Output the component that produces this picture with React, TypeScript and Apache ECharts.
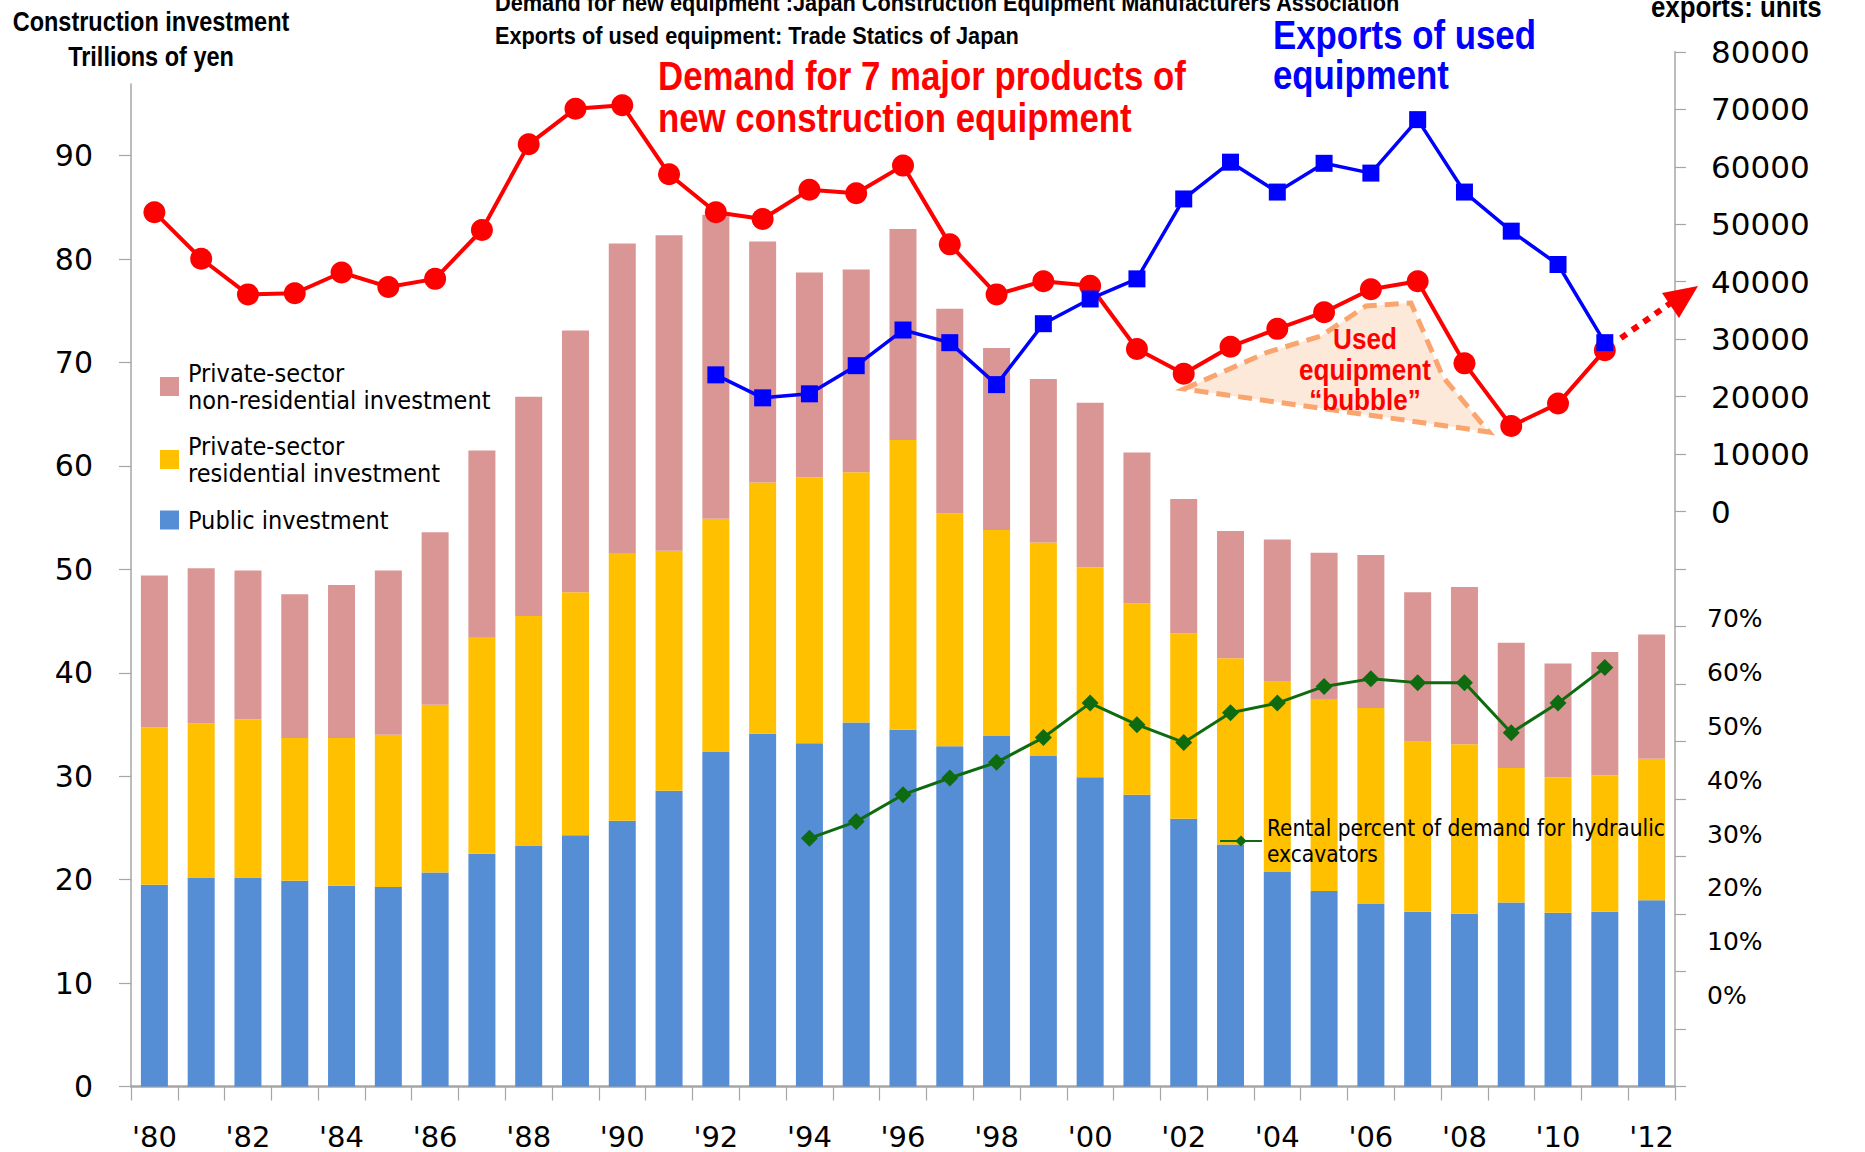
import React, { useEffect, useRef } from "react";
import * as echarts from "echarts";

const years = ["'80","'81","'82","'83","'84","'85","'86","'87","'88","'89","'90","'91","'92","'93","'94","'95","'96","'97","'98","'99","'00","'01","'02","'03","'04","'05","'06","'07","'08","'09","'10","'11","'12"];

const publicInv = [19.5,20.2,20.2,19.9,19.4,19.3,20.7,22.5,23.3,24.3,25.7,28.6,32.4,34.1,33.2,35.2,34.5,32.9,33.9,32.0,29.9,28.2,25.9,23.4,20.8,18.9,17.7,16.9,16.7,17.8,16.8,16.9,18.0];
const residentialInv = [15.2,14.9,15.3,13.8,14.3,14.7,16.2,20.9,22.2,23.5,25.8,23.2,22.5,24.3,25.7,24.2,28.0,22.5,19.9,20.6,20.3,18.5,17.9,18.0,18.4,18.5,18.9,16.5,16.4,13.0,13.1,13.2,13.7];
const nonResidentialInv = [14.7,15.0,14.4,13.9,14.8,15.9,16.7,18.1,21.2,25.3,30.0,30.5,29.4,23.3,19.8,19.6,20.4,19.8,17.6,15.8,15.9,14.6,13.0,12.3,13.7,14.2,14.8,14.4,15.2,12.1,11.0,11.9,12.0];

const newDemand = [52100,44000,37800,38000,41600,39100,40500,49000,63900,70100,70700,58700,52100,50900,56000,55400,60200,46500,37800,40100,39300,28300,24000,28700,31800,34700,38700,40100,25800,14900,18800,28100,null];
const usedExports = [null,null,null,null,null,null,null,null,null,null,null,null,23800,19800,20500,25400,31600,29400,22100,32700,37000,40500,54400,60800,55600,60600,58900,68200,55600,48800,43000,29400,null];
const rentalPct = [null,null,null,null,null,null,null,null,null,null,null,null,null,null,29.2,32.3,37.3,40.4,43.3,47.9,54.3,50.3,47.0,52.5,54.3,57.4,58.8,58.1,58.1,48.8,54.3,60.9,null];

const leftTicks = [0,10,20,30,40,50,60,70,80,90];
const pctTicks = [0,10,20,30,40,50,60,70];

const BOLDFONT = "'Liberation Sans', Arial, sans-serif";
const LEGENDFONT = "'DejaVu Sans Condensed', 'Liberation Sans Narrow', sans-serif";
const NUM = "'DejaVu Sans', Verdana, sans-serif";

const AXIS_GRAY = "#A6A6A6";

function txt(x: number, y: number, text: string, size: number, color: string, sx: number, align = "left") {
  return {
    type: "text",
    x,
    y,
    scaleX: sx,
    scaleY: 1,
    z: 100,
    style: {
      text,
      fill: color,
      font: `bold ${size}px ${BOLDFONT}`,
      textAlign: align,
      align,
      textVerticalAlign: "middle",
      verticalAlign: "middle",
    },
  };
}

export default function App() {
  const ref = useRef<HTMLDivElement>(null);

  useEffect(() => {
    if (!ref.current) return;
    const chart = echarts.init(ref.current, null, { renderer: "svg" });

    const gridLeft = 131;
    const gridRight = 190;
    const gridBottom = 65.5;

    const legendText = { fontFamily: LEGENDFONT, fontSize: 25, lineHeight: 27, color: "#000", padding: [0, 0, 0, 4] };

    const option: any = {
      animation: false,
      backgroundColor: "#ffffff",
      grid: [
        { left: gridLeft, right: gridRight, top: 84, bottom: gridBottom, containLabel: false },
        { left: gridLeft, right: gridRight, top: 51.8, bottom: gridBottom, containLabel: false },
      ],
      legend: [
        {
          data: ["Private-sector\nnon-residential investment", "Private-sector\nresidential investment"],
          orient: "vertical",
          left: 155,
          top: 354.5,
          itemWidth: 19,
          itemHeight: 19,
          itemGap: 19,
          icon: "rect",
          selectedMode: false,
          textStyle: legendText,
        },
        {
          data: ["Public investment"],
          orient: "vertical",
          left: 155,
          top: 501.5,
          itemWidth: 19,
          itemHeight: 19,
          icon: "rect",
          selectedMode: false,
          textStyle: legendText,
        },
        {
          data: ["Rental percent of demand for hydraulic\nexcavators"],
          orient: "vertical",
          left: 1214,
          top: 810,
          itemWidth: 42,
          itemHeight: 14,
          selectedMode: false,
          textStyle: { fontFamily: LEGENDFONT, fontSize: 22.5, lineHeight: 26, color: "#000" },
        },
      ],
      xAxis: [
        {
          type: "category",
          gridIndex: 0,
          data: years,
          boundaryGap: true,
          axisLine: { show: true, lineStyle: { color: AXIS_GRAY, width: 2.5 } },
          axisTick: { show: true, interval: 0, length: 14, lineStyle: { color: AXIS_GRAY, width: 1.2 } },
          axisLabel: { interval: 1, margin: 35, fontFamily: NUM, fontSize: 29, lineHeight: 30, color: "#000" },
          splitLine: { show: false },
        },
        {
          type: "category",
          gridIndex: 1,
          data: years,
          boundaryGap: true,
          show: false,
        },
      ],
      yAxis: [
        {
          type: "value",
          gridIndex: 0,
          min: 0,
          max: 96.93,
          position: "left",
          axisLine: { show: true, lineStyle: { color: AXIS_GRAY, width: 1.5 } },
          axisTick: { show: true, length: 12, customValues: leftTicks, lineStyle: { color: AXIS_GRAY, width: 1.2 } },
          axisLabel: { customValues: leftTicks, margin: 38, fontFamily: NUM, fontSize: 30, color: "#000" },
          splitLine: { show: false },
        },
        {
          type: "value",
          gridIndex: 1,
          min: -100000,
          max: 80000,
          interval: 10000,
          position: "right",
          axisLine: { show: true, lineStyle: { color: AXIS_GRAY, width: 1.5 } },
          axisTick: { show: true, length: 11, lineStyle: { color: AXIS_GRAY, width: 1.2 } },
          axisLabel: {
            margin: 36,
            fontFamily: NUM,
            fontSize: 31,
            color: "#000",
            formatter: (v: number) => (v < 0 ? "" : String(v)),
          },
          splitLine: { show: false },
        },
        {
          type: "value",
          gridIndex: 1,
          min: -16.87,
          max: 175.2,
          position: "right",
          axisLine: { show: false },
          axisTick: { show: false },
          axisLabel: {
            customValues: pctTicks,
            margin: 32,
            fontFamily: NUM,
            fontSize: 25,
            color: "#000",
            formatter: (v: number) => `${v}%`,
          },
          splitLine: { show: false },
        },
      ],
      series: [
        {
          name: "Public investment",
          type: "bar",
          stack: "inv",
          xAxisIndex: 0,
          yAxisIndex: 0,
          data: publicInv,
          barWidth: 27,
          itemStyle: { color: "#558ED5" },
          z: 2,
        },
        {
          name: "Private-sector\nresidential investment",
          type: "bar",
          stack: "inv",
          xAxisIndex: 0,
          yAxisIndex: 0,
          data: residentialInv,
          barWidth: 27,
          itemStyle: { color: "#FFC000" },
          z: 2,
        },
        {
          name: "Private-sector\nnon-residential investment",
          type: "bar",
          stack: "inv",
          xAxisIndex: 0,
          yAxisIndex: 0,
          data: nonResidentialInv,
          barWidth: 27,
          itemStyle: { color: "#D99694" },
          z: 2,
        },
        {
          name: "Rental percent of demand for hydraulic\nexcavators",
          type: "line",
          xAxisIndex: 1,
          yAxisIndex: 2,
          data: rentalPct,
          symbol: "diamond",
          symbolSize: 17,
          showSymbol: true,
          lineStyle: { color: "#0F6B0F", width: 3 },
          itemStyle: { color: "#0F6B0F" },
          z: 5,
        },
        {
          name: "Demand for 7 major products of new construction equipment",
          type: "line",
          xAxisIndex: 1,
          yAxisIndex: 1,
          data: newDemand,
          symbol: "circle",
          symbolSize: 22,
          lineStyle: { color: "#FF0000", width: 4 },
          itemStyle: { color: "#FF0000" },
          z: 6,
        },
        {
          name: "Exports of used equipment",
          type: "line",
          xAxisIndex: 1,
          yAxisIndex: 1,
          data: usedExports,
          symbol: "rect",
          symbolSize: 17,
          lineStyle: { color: "#0000FF", width: 3.5 },
          itemStyle: { color: "#0000FF" },
          z: 7,
        },
      ],
    };

    chart.setOption(option);

    const start = chart.convertToPixel({ xAxisIndex: 1, yAxisIndex: 1 } as any, [years[31], newDemand[31] as number]) as number[];
    const sx = start ? start[0] + 16 : 1620;
    const sy = start ? start[1] - 12 : 338;

    const graphic: any[] = [
      {
        type: "polygon",
        z: 1,
        shape: {
          points: [
            [1184, 389],
            [1268, 352],
            [1321, 336],
            [1366, 306],
            [1411, 303],
            [1443, 377],
            [1489, 432],
          ],
        },
        style: { fill: "#FDE9D9", stroke: "#FAA46E", lineWidth: 5, lineDash: [14, 8] },
      },
      txt(1365, 339, "Used", 29, "#FF0000", 0.9, "center"),
      txt(1365, 370, "equipment", 29, "#FF0000", 0.9, "center"),
      txt(1365, 400, "\u201Cbubble\u201D", 29, "#FF0000", 0.9, "center"),
      {
        type: "line",
        z: 8,
        shape: { x1: sx, y1: sy, x2: 1672, y2: 302 },
        style: { stroke: "#FF0000", lineWidth: 6, lineDash: [7, 7] },
      },
      {
        type: "polygon",
        z: 8,
        shape: { points: [[1698, 286], [1662, 293], [1679, 318]] },
        style: { fill: "#FF0000" },
      },
      txt(151, 21, "Construction investment", 27, "#000", 0.87, "center"),
      txt(151, 56, "Trillions of yen", 27, "#000", 0.87, "center"),
      txt(495, 3, "Demand for new equipment :Japan Construction Equipment Manufacturers Association", 23, "#000", 0.945),
      txt(495, 36, "Exports of used equipment: Trade Statics of Japan", 23, "#000", 0.945),
      txt(1651, 7, "exports: units", 29, "#000", 0.89),
      txt(658, 76, "Demand for 7 major products of", 40, "#FF0000", 0.87),
      txt(658, 118, "new construction equipment", 40, "#FF0000", 0.87),
      txt(1273, 35, "Exports of used", 40, "#0000FF", 0.87),
      txt(1273, 75, "equipment", 40, "#0000FF", 0.87),
    ];

    chart.setOption({ graphic });

    return () => {
      chart.dispose();
    };
  }, []);

  return (
    <div
      ref={ref}
      style={{ position: "absolute", left: 0, top: 0, width: 1865, height: 1152, background: "#fff" }}
    />
  );
}
